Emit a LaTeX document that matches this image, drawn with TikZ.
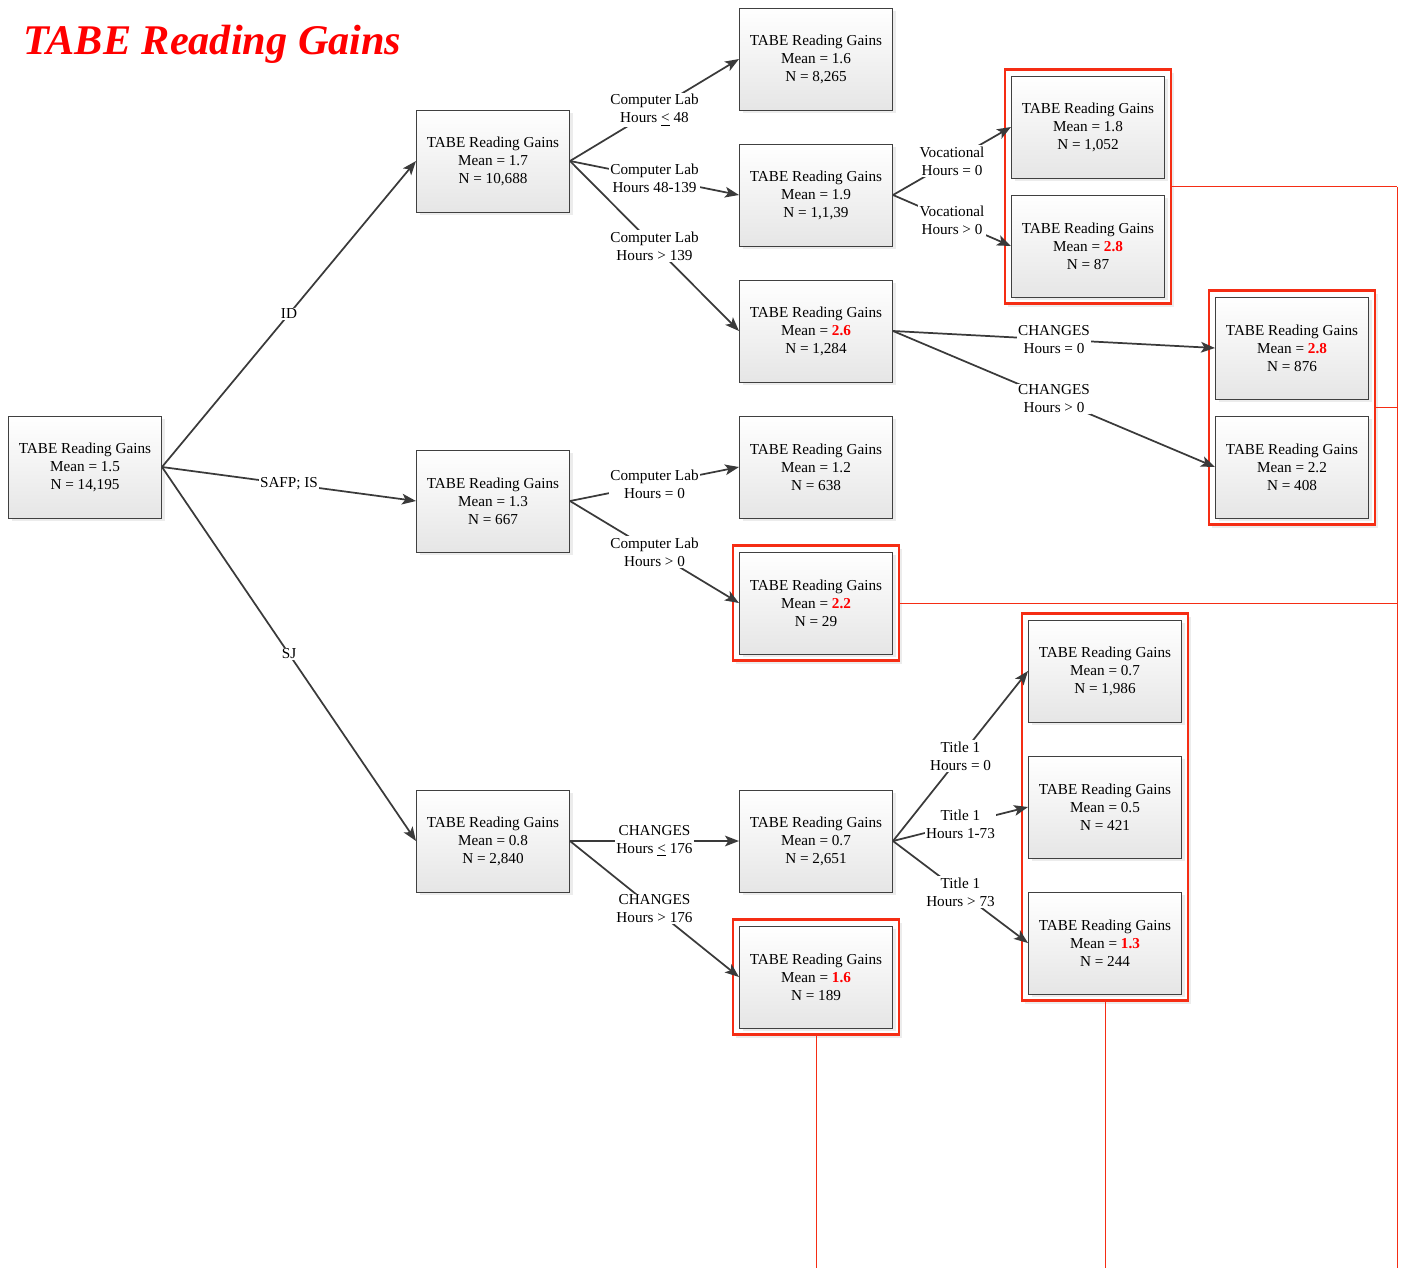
\documentclass[tikz,border=0pt]{standalone}
\usepackage{fontspec}
\setmainfont{Liberation Serif}
\usetikzlibrary{arrows.meta,shadows,fit}
\definecolor{linegray}{HTML}{3A3A3A}
\definecolor{boxborder}{HTML}{404040}
\definecolor{wrapred}{RGB}{245,45,20}
\newcommand\tabetxt[2]{TABE Reading Gains\\Mean = #1\\N = #2}
\newcommand\hiv[1]{\textcolor{red}{\textbf{#1}}}
\pgfdeclarelayer{bg}
\pgfsetlayers{bg,main}
\begin{document}
\begin{tikzpicture}[x=0.75pt,y=-0.75pt,
  every node/.style={font=\fontsize{11.4pt}{13.5pt}\selectfont},
  tbox/.style={draw=boxborder, line width=0.75pt, top color=white, bottom color=black!10,
    minimum width=114.75pt, minimum height=76.5pt, align=center, inner sep=0pt,
    drop shadow={opacity=0.15, shadow xshift=2.5pt, shadow yshift=-2.5pt}},
  wrap/.style={draw=wrapred, fill=white, line width=1.8pt, inner sep=4.5pt,
    drop shadow={opacity=0.15, shadow xshift=2.5pt, shadow yshift=-2.5pt}},
  conn/.style={draw=linegray, line width=1.3pt, -{Stealth[length=10.5pt,width=8pt,inset=2.5pt]}},
  lbl/.style={fill=white, align=center, inner sep=1pt, midway},
  redline/.style={draw=wrapred, line width=0.6pt}
]
\useasboundingbox (0,0) rectangle (1401,1268);

\node[anchor=base west, text=red, inner sep=0pt,
  font=\fontsize{31.7pt}{36pt}\selectfont\bfseries\itshape] (title) at (23,54) {TABE Reading Gains};

% boxes
\node[tbox] (root) at (85,467) {\tabetxt{1.5}{14,195}};
\node[tbox] (id) at (493,161) {\tabetxt{1.7}{10,688}};
\node[tbox] (safp) at (493,501) {\tabetxt{1.3}{667}};
\node[tbox] (sj) at (493,841) {\tabetxt{0.8}{2,840}};

\node[tbox] (a1) at (816,59) {\tabetxt{1.6}{8,265}};
\node[tbox] (a2) at (816,195) {\tabetxt{1.9}{1,1,39}};
\node[tbox] (a3) at (816,331) {\tabetxt{\hiv{2.6}}{1,284}};
\node[tbox] (b1) at (816,467) {\tabetxt{1.2}{638}};
\node[tbox] (b2) at (816,603) {\tabetxt{\hiv{2.2}}{29}};
\node[tbox] (c1) at (816,841) {\tabetxt{0.7}{2,651}};
\node[tbox] (c2) at (816,977) {\tabetxt{\hiv{1.6}}{189}};

\node[tbox] (v1) at (1088,127) {\tabetxt{1.8}{1,052}};
\node[tbox] (v2) at (1088,246) {\tabetxt{\hiv{2.8}}{87}};

\node[tbox] (ch1) at (1292,348) {\tabetxt{\hiv{2.8}}{876}};
\node[tbox] (ch2) at (1292,467) {\tabetxt{2.2}{408}};

\node[tbox] (t1) at (1105,671) {\tabetxt{0.7}{1,986}};
\node[tbox] (t2) at (1105,807) {\tabetxt{0.5}{421}};
\node[tbox] (t3) at (1105,943) {\tabetxt{\hiv{1.3}}{244}};

% red wrappers
\begin{pgfonlayer}{bg}
\node[wrap, fit=(v1)(v2)] (wv) {};
\node[wrap, fit=(ch1)(ch2)] (wc) {};
\node[wrap, fit=(b2)] (wb) {};
\node[wrap, fit=(c2)] (wcc) {};
\node[wrap, fit=(t1)(t2)(t3)] (wt) {};
\end{pgfonlayer}

% red lines
\coordinate (rtop) at (1397,187);
\coordinate (rbot) at (1397,1268);
\draw[redline] (wv.east) -- (wv.east -| rtop);
\draw[redline] (wc.east) -- (wc.east -| rtop);
\draw[redline] (wb.east) -- (wb.east -| rtop);
\draw[redline] (rtop) -- (rbot);
\draw[redline] (wt.south) -- (wt.south |- rbot);
\draw[redline] (wcc.south) -- (wcc.south |- rbot);

% connectors
\draw[conn] (root.east) -- node[lbl]{ID} (id.west);
\draw[conn] (root.east) -- node[lbl]{SAFP; IS} (safp.west);
\draw[conn] (root.east) -- node[lbl]{SJ} (sj.west);

\draw[conn] (id.east) -- node[lbl]{Computer Lab\\Hours \underline{<} 48} (a1.west);
\draw[conn] (id.east) -- node[lbl]{Computer Lab\\Hours 48-139} (a2.west);
\draw[conn] (id.east) -- node[lbl]{Computer Lab\\Hours > 139} (a3.west);

\draw[conn] (a2.east) -- node[lbl]{Vocational\\Hours = 0} (v1.west);
\draw[conn] (a2.east) -- node[lbl]{Vocational\\Hours > 0} (v2.west);

\draw[conn] (a3.east) -- node[lbl]{CHANGES\\Hours = 0} (ch1.west);
\draw[conn] (a3.east) -- node[lbl]{CHANGES\\Hours > 0} (ch2.west);

\draw[conn] (safp.east) -- node[lbl]{Computer Lab\\Hours = 0} (b1.west);
\draw[conn] (safp.east) -- node[lbl]{Computer Lab\\Hours > 0} (b2.west);

\draw[conn] (sj.east) -- node[lbl]{CHANGES\\Hours \underline{<} 176} (c1.west);
\draw[conn] (sj.east) -- node[lbl]{CHANGES\\Hours > 176} (c2.west);

\draw[conn] (c1.east) -- node[lbl]{Title 1\\Hours = 0} (t1.west);
\draw[conn] (c1.east) -- node[lbl]{Title 1\\Hours 1-73} (t2.west);
\draw[conn] (c1.east) -- node[lbl]{Title 1\\Hours > 73} (t3.west);
\end{tikzpicture}
\end{document}
